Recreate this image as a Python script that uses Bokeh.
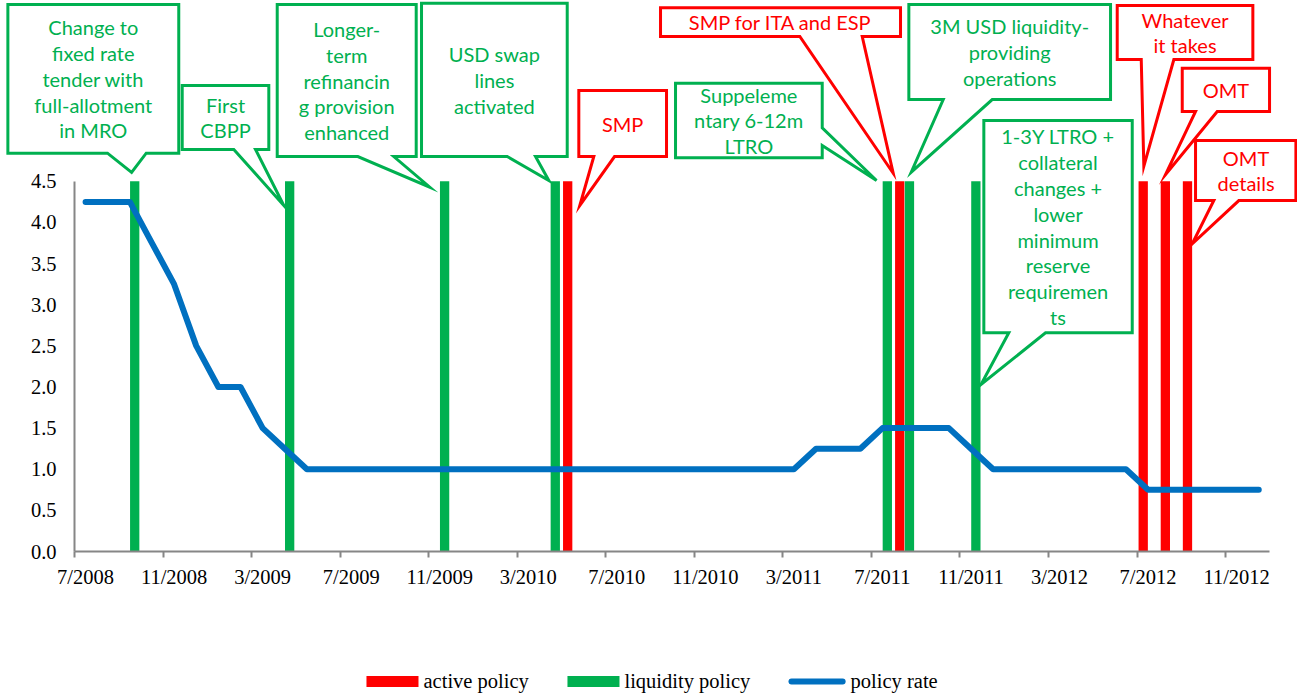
from bokeh.plotting import figure
from bokeh.models import (Range1d, LinearAxis, FixedTicker, ColumnDataSource, NumeralTickFormatter)
from bokeh.core.properties import value
from bokeh.embed import file_html
from bokeh.resources import INLINE

# ---------------- data ----------------
months = ["7/2008", "8/2008", "9/2008", "10/2008", "11/2008", "12/2008",
          "1/2009", "2/2009", "3/2009", "4/2009", "5/2009", "6/2009",
          "7/2009", "8/2009", "9/2009", "10/2009", "11/2009", "12/2009",
          "1/2010", "2/2010", "3/2010", "4/2010", "5/2010", "6/2010",
          "7/2010", "8/2010", "9/2010", "10/2010", "11/2010", "12/2010",
          "1/2011", "2/2011", "3/2011", "4/2011", "5/2011", "6/2011",
          "7/2011", "8/2011", "9/2011", "10/2011", "11/2011", "12/2011",
          "1/2012", "2/2012", "3/2012", "4/2012", "5/2012", "6/2012",
          "7/2012", "8/2012", "9/2012", "10/2012", "11/2012", "12/2012"]

policy_rate = [4.25, 4.25, 4.25, 3.75, 3.25, 2.50,
               2.00, 2.00, 1.50, 1.25, 1.00, 1.00,
               1.00, 1.00, 1.00, 1.00, 1.00, 1.00,
               1.00, 1.00, 1.00, 1.00, 1.00, 1.00,
               1.00, 1.00, 1.00, 1.00, 1.00, 1.00,
               1.00, 1.00, 1.00, 1.25, 1.25, 1.25,
               1.50, 1.50, 1.50, 1.50, 1.25, 1.00,
               1.00, 1.00, 1.00, 1.00, 1.00, 1.00,
               0.75, 0.75, 0.75, 0.75, 0.75, 0.75]

active_policy_months = ["5/2010", "8/2011", "7/2012", "8/2012", "9/2012"]
active_policy_values = [4.5, 4.5, 4.5, 4.5, 4.5]

liquidity_policy_months = ["9/2008", "4/2009", "11/2009", "4/2010", "7/2011", "8/2011", "11/2011"]
liquidity_policy_values = [4.5, 4.5, 4.5, 4.5, 4.5, 4.5, 4.5]

series_names = ["active policy", "liquidity policy", "policy rate"]

x_tick_labels = ["7/2008", "11/2008", "3/2009", "7/2009", "11/2009", "3/2010", "7/2010",
                 "11/2010", "3/2011", "7/2011", "11/2011", "3/2012", "7/2012", "11/2012"]
y_ticks = [0.0, 0.5, 1.0, 1.5, 2.0, 2.5, 3.0, 3.5, 4.0, 4.5]

# callout annotations (box: x0, x1, y0, y1 in month-slot / rate units)
callouts = [
    dict(lines=["Change to", "fixed rate", "tender with", "full-allotment", "in MRO"], kind="liq",
         box=(-3.01, 4.71, 4.843, 6.650), side="bottom", base=(1.49, 3.24), tip=(2.58, 4.61)),
    dict(lines=["First", "CBPP"], kind="liq",
         box=(4.866, 8.778, 4.888, 5.666), side="bottom", base=(7.197, 8.177), tip=(9.456, 4.207)),
    dict(lines=["Longer-", "term", "refinancin", "g provision", "enhanced"], kind="liq",
         box=(9.158, 15.437, 4.802, 6.650), side="bottom", base=(12.799, 14.425), tip=(16.052, 4.429)),
    dict(lines=["USD swap", "lines", "activated"], kind="liq",
         box=(15.677, 22.259, 4.802, 6.666), side="bottom", base=(19.548, 20.827), tip=(21.428, 4.511)),
    dict(lines=["SMP"], kind="act",
         box=(22.783, 26.745, 4.802, 5.605), side="bottom", base=(23.461, 24.396), tip=(22.828, 4.207)),
    dict(lines=["Suppeleme", "ntary 6-12m", "LTRO"], kind="liq",
         box=(27.152, 33.779, 4.787, 5.694), side="right", base=(4.936, 5.151), tip=(36.233, 4.511)),
    dict(lines=["SMP for ITA and ESP"], kind="act",
         box=(26.474, 37.316, 6.261, 6.610), side="bottom", base=(32.767, 35.586), tip=(36.986, 4.599)),
    dict(lines=["3M USD liquidity-", "providing", "operations"], kind="liq",
         box=(37.692, 46.804, 5.495, 6.650), side="bottom", base=(39.246, 41.460), tip=(37.800, 4.611)),
    dict(lines=["1-3Y LTRO +", "collateral", "changes +", "lower", "minimum", "reserve",
                "requiremen", "ts"], kind="liq",
         box=(41.080, 47.784, 2.659, 5.240), side="bottom", base=(42.209, 43.867), tip=(40.954, 2.03)),
    dict(lines=["Whatever", "it takes"], kind="act",
         box=(47.106, 53.233, 5.982, 6.638), side="bottom", base=(48.191, 49.664), tip=(48.308, 4.685)),
    dict(lines=["OMT"], kind="act",
         box=(50.043, 53.987, 5.350, 5.876), side="bottom", base=(50.644, 51.624), tip=(49.289, 4.584)),
    dict(lines=["OMT", "details"], kind="act",
         box=(50.644, 55.207, 4.267, 4.997), side="bottom", base=(51.470, 52.600), tip=(50.494, 3.741)),
]

# ---------------- style ----------------
GREEN = "#00B050"
RED = "#FF0000"
BLUE = "#0070C0"
GREY = "#868686"
SERIF = "Liberation Serif"
SANS = "Lato"

W, H = 1297, 698
LEFT, BOTTOM = 74, 147
X_END = 55.25
Y_END = 6.699
PX_X = 22.135      # pixels per month slot
PX_Y = 82.25       # pixels per rate unit
BAR_W = 0.42
DODGE = 0.22
LINE_STEP = 0.3137   # callout text line spacing (rate units)

# legend layout (month-slot / rate units, below the x axis)
LEG_Y = -1.58
LEG_SWATCH_H = 11 / PX_Y
LEG_SWATCH_X = [(13.19, 15.54), (22.27, 24.62), (32.39, 34.70)]
LEG_GAP = 5 / PX_X

slot = {m: i for i, m in enumerate(months)}

p = figure(width=W, height=H, x_range=Range1d(0, X_END), y_range=Range1d(0, Y_END),
           output_backend="svg", toolbar_location=None, x_axis_type=None, y_axis_type=None,
           min_border_left=LEFT, min_border_right=0, min_border_top=0, min_border_bottom=BOTTOM)
p.outline_line_color = None
p.background_fill_color = "white"
p.border_fill_color = "white"

# axes
yax = LinearAxis(ticker=FixedTicker(ticks=y_ticks), formatter=NumeralTickFormatter(format="0.0"),
                 bounds=(0, 4.5))
yax.axis_line_color = GREY
yax.axis_line_width = 2
yax.major_tick_out = 0
yax.major_tick_in = 0
yax.minor_tick_out = 0
yax.minor_tick_in = 0
yax.major_label_standoff = 18
yax.major_label_text_font = SERIF
yax.major_label_text_font_size = "20.5px"
yax.major_label_text_color = "black"
p.add_layout(yax, "left")

n_months = len(months)
tick_pos = list(range(0, n_months, 4))
xax = LinearAxis(ticker=FixedTicker(ticks=tick_pos), bounds=(0, n_months))
xax.axis_line_color = GREY
xax.axis_line_width = 2
xax.major_tick_line_color = GREY
xax.major_tick_line_width = 2
xax.major_tick_out = 6
xax.major_tick_in = 0
xax.minor_tick_out = 0
xax.minor_tick_in = 0
xax.major_label_text_font_size = "1px"
xax.major_label_text_alpha = 0
xax.major_label_standoff = 0
p.add_layout(xax, "below")

label_pos = [t + 0.5 for t in tick_pos]
xlab = LinearAxis(ticker=FixedTicker(ticks=label_pos),
                  major_label_overrides={lp: lab for lp, lab in zip(label_pos, x_tick_labels)})
xlab.axis_line_color = None
xlab.major_tick_line_color = None
xlab.major_tick_out = 0
xlab.major_tick_in = 0
xlab.minor_tick_line_color = None
xlab.major_label_standoff = 8
xlab.major_label_text_font = SERIF
xlab.major_label_text_font_size = "20.5px"
xlab.major_label_text_color = "black"
p.add_layout(xlab, "below")

# bars
act_src = ColumnDataSource(dict(x=[slot[m] + 0.5 - DODGE for m in active_policy_months],
                                top=active_policy_values))
liq_src = ColumnDataSource(dict(x=[slot[m] + 0.5 + DODGE for m in liquidity_policy_months],
                                top=liquidity_policy_values))
p.vbar(x="x", top="top", bottom=0, width=BAR_W, source=act_src, fill_color=RED, line_color=None)
p.vbar(x="x", top="top", bottom=0, width=BAR_W, source=liq_src, fill_color=GREEN, line_color=None)

# policy rate line
p.line([i + 0.5 for i in range(n_months)], policy_rate, line_color=BLUE, line_width=6,
       line_cap="round", line_join="round")

# callouts
xs, ys, cols = [], [], []
tx, ty, tt, tc = [], [], [], []
x_lim = X_END - 1.6 / PX_X
y_lim = Y_END - 1.6 / PX_Y
for c in callouts:
    x0, x1, y0, y1 = c["box"]
    col = GREEN if c["kind"] == "liq" else RED
    cx, cy = (x0 + x1) / 2, (y0 + y1) / 2
    dx1, dy1 = min(x1, x_lim), min(y1, y_lim)
    a, b = c["base"]
    tipx, tipy = c["tip"]
    if c["side"] == "bottom":
        px = [x0, dx1, dx1, b, tipx, a, x0]
        py = [dy1, dy1, y0, y0, tipy, y0, y0]
    else:
        px = [x0, dx1, dx1, tipx, dx1, dx1, x0]
        py = [dy1, dy1, b, tipy, a, y0, y0]
    xs.append(px)
    ys.append(py)
    cols.append(col)
    n = len(c["lines"])
    for i, line in enumerate(c["lines"]):
        tx.append(cx)
        ty.append(cy + ((n - 1) / 2 - i) * LINE_STEP)
        tt.append(line)
        tc.append(col)

p.patches(xs, ys, fill_color="white", line_color=cols, line_width=3, line_join="miter",
          level="overlay")
p.text(x=tx, y=ty, text=tt, text_color=tc, text_font=value(SANS), text_font_size="20px",
       text_align="center", text_baseline="middle", level="overlay")

# legend (drawn below the x axis, outside the data frame)
(ra, rb), (ga, gb), (ba, bb) = LEG_SWATCH_X
p.quad(left=[ra, ga], right=[rb, gb],
       bottom=[LEG_Y - LEG_SWATCH_H / 2] * 2, top=[LEG_Y + LEG_SWATCH_H / 2] * 2,
       fill_color=[RED, GREEN], line_color=None, level="overlay")
p.line([ba, bb], [LEG_Y, LEG_Y], line_color=BLUE, line_width=6, line_cap="round", level="overlay")
p.text(x=[rb + LEG_GAP, gb + LEG_GAP, bb + LEG_GAP + 3 / PX_X], y=[LEG_Y] * 3, text=series_names,
       text_color="black", text_font=value(SERIF), text_font_size="20.5px",
       text_align="left", text_baseline="middle", level="overlay")

open("out.html", "w").write(file_html(p, INLINE))
